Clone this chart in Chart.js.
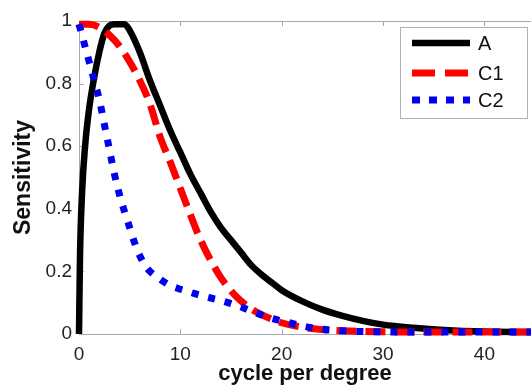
<!DOCTYPE html>
<html><head><meta charset="utf-8">
<script src="https://cdn.jsdelivr.net/npm/chart.js@4/dist/chart.umd.min.js"></script>
<style>html,body{margin:0;padding:0;background:#fff;overflow:hidden}#wrap{width:531px;height:389px;position:relative}</style>
</head><body><div id="wrap"><canvas id="c" width="531" height="389"></canvas></div>
<script>
const seriesNames = ['A', 'C1', 'C2'];
const aX  = [0,0.1,0.3,0.6,1,1.5,2,2.5,3,3.5,4,4.5,5,6,7,8,9,10,11,12,13,14,15,16,17,18,19,20,22,24,26,28,30,33,36,40,45];
const aY  = [0,0.25,0.45,0.6,0.72,0.82,0.9,0.96,0.985,0.99,0.99,0.99,0.97,0.9,0.81,0.73,0.65,0.58,0.51,0.45,0.39,0.34,0.3,0.26,0.22,0.19,0.165,0.14,0.105,0.078,0.058,0.042,0.03,0.02,0.013,0.008,0.006];
const c1X = [0,1,2,3,4,5,6,7,8,9,10,11,12,13,14,15,16,17,18,20,22,24,26,30,35,45];
const c1Y = [0.99,0.99,0.98,0.955,0.92,0.87,0.81,0.735,0.63,0.55,0.465,0.38,0.3,0.235,0.18,0.138,0.105,0.08,0.062,0.036,0.022,0.014,0.01,0.007,0.006,0.006];
const c2X = [0,0.5,1,1.5,2,2.5,3,3.5,4,4.5,5,5.5,6,6.5,7,8,9,10,11,12,13,14,15,16,17,18,19,20,22,24,26,30,35,45];
const c2Y = [0.99,0.93,0.87,0.81,0.75,0.67,0.59,0.51,0.445,0.39,0.34,0.29,0.25,0.22,0.2,0.175,0.155,0.143,0.133,0.123,0.115,0.107,0.097,0.086,0.073,0.061,0.05,0.042,0.026,0.015,0.01,0.007,0.006,0.006];
const xTicks = [0,10,20,30,40];
const yTicks = [0,0.2,0.4,0.6,0.8,1];
const xTitle = 'cycle per degree';
const yTitle = 'Sensitivity';

const FONT = "'Liberation Sans', Arial, Helvetica, sans-serif";
const pts = (xs, ys) => xs.map((x, i) => ({x: x, y: ys[i]}));

const frame = {
  id: 'frame',
  beforeDatasetsDraw(chart) {
    const {ctx, chartArea: a, scales: {x, y}} = chart;
    ctx.save();
    ctx.strokeStyle = '#a8a8a8';
    ctx.lineWidth = 1;
    ctx.beginPath();
    ctx.moveTo(a.left, a.top + 0.5); ctx.lineTo(a.right, a.top + 0.5);
    xTicks.forEach(v => {
      const px = Math.round(x.getPixelForValue(v)) + 0.5;
      ctx.moveTo(px, a.bottom); ctx.lineTo(px, a.bottom - 5);
      ctx.moveTo(px, a.top); ctx.lineTo(px, a.top + 5);
    });
    yTicks.forEach(v => {
      const py = Math.round(y.getPixelForValue(v)) + 0.5;
      ctx.moveTo(a.left, py); ctx.lineTo(a.left + 5, py);
    });
    ctx.stroke();
    ctx.restore();
  }
};

const legendBox = {
  id: 'legendBox',
  afterDraw(chart) {
    const ctx = chart.ctx;
    const bx = 400, by = 27, bw = 127, bh = 91;
    ctx.save();
    ctx.fillStyle = '#fff';
    ctx.fillRect(bx, by, bw, bh);
    ctx.strokeStyle = '#b0b0b0';
    ctx.lineWidth = 1;
    ctx.strokeRect(bx + 0.5, by + 0.5, bw, bh);
    const rows = [43, 73, 100];
    chart.data.datasets.forEach((ds, i) => {
      const yy = rows[i];
      ctx.strokeStyle = ds.borderColor;
      ctx.lineWidth = ds.borderWidth;
      ctx.setLineDash(ds.legendDash || []);
      ctx.lineCap = 'butt';
      ctx.beginPath();
      ctx.moveTo(412, yy); ctx.lineTo(470, yy);
      ctx.stroke();
      ctx.setLineDash([]);
      ctx.fillStyle = '#111';
      ctx.font = '20px ' + FONT;
      ctx.textBaseline = 'middle';
      ctx.textAlign = 'left';
      ctx.fillText(ds.label, 478, yy + 1);
    });
    ctx.restore();
  }
};

new Chart(document.getElementById('c').getContext('2d'), {
  type: 'line',
  data: {
    datasets: [
      {label: seriesNames[0], data: pts(aX, aY), borderColor: '#000000', borderWidth: 6.5,
       order: 3, legendDash: []},
      {label: seriesNames[1], data: pts(c1X, c1Y), borderColor: '#ff0000', borderWidth: 7,
       borderDash: [20, 9], order: 2, legendDash: [23, 10]},
      {label: seriesNames[2], data: pts(c2X, c2Y), borderColor: '#0000ee', borderWidth: 7,
       borderDash: [7, 10], order: 1, legendDash: [8, 9]}
    ]
  },
  options: {
    responsive: false,
    animation: false,
    layout: {padding: {top: 21, right: 0, left: 0, bottom: 0}},
    plugins: {legend: {display: false}, tooltip: {enabled: false}},
    elements: {point: {radius: 0}, line: {cubicInterpolationMode: 'monotone', fill: false, borderCapStyle: 'butt'}},
    datasets: {line: {clip: false}},
    scales: {
      x: {
        type: 'linear', min: 0, max: 44.6,
        afterBuildTicks: s => { s.ticks = xTicks.map(v => ({value: v})); },
        afterFit: s => { s.height = 55; },
        grid: {display: false, drawTicks: false},
        border: {display: true, color: '#a8a8a8', width: 1},
        ticks: {padding: 9, color: '#222', maxRotation: 0, autoSkip: false, font: {family: FONT, size: 19},
                callback: v => String(v)},
        title: {display: true, text: xTitle, color: '#111', font: {family: FONT, size: 22, weight: 'bold'}, padding: {top: 0, bottom: 2}}
      },
      y: {
        type: 'linear', min: 0, max: 1,
        afterBuildTicks: s => { s.ticks = yTicks.map(v => ({value: v})); },
        afterFit: s => { s.width = 79; },
        grid: {display: false, drawTicks: false},
        border: {display: true, color: '#a8a8a8', width: 1},
        ticks: {padding: 7, color: '#222', autoSkip: false, font: {family: FONT, size: 19},
                callback: v => String(+Number(v).toFixed(1))},
        title: {display: true, text: yTitle, color: '#111', font: {family: FONT, size: 23, weight: 'bold'}, padding: {top: 10, bottom: 0}}
      }
    }
  },
  plugins: [frame, legendBox]
});
</script>
</body></html>
